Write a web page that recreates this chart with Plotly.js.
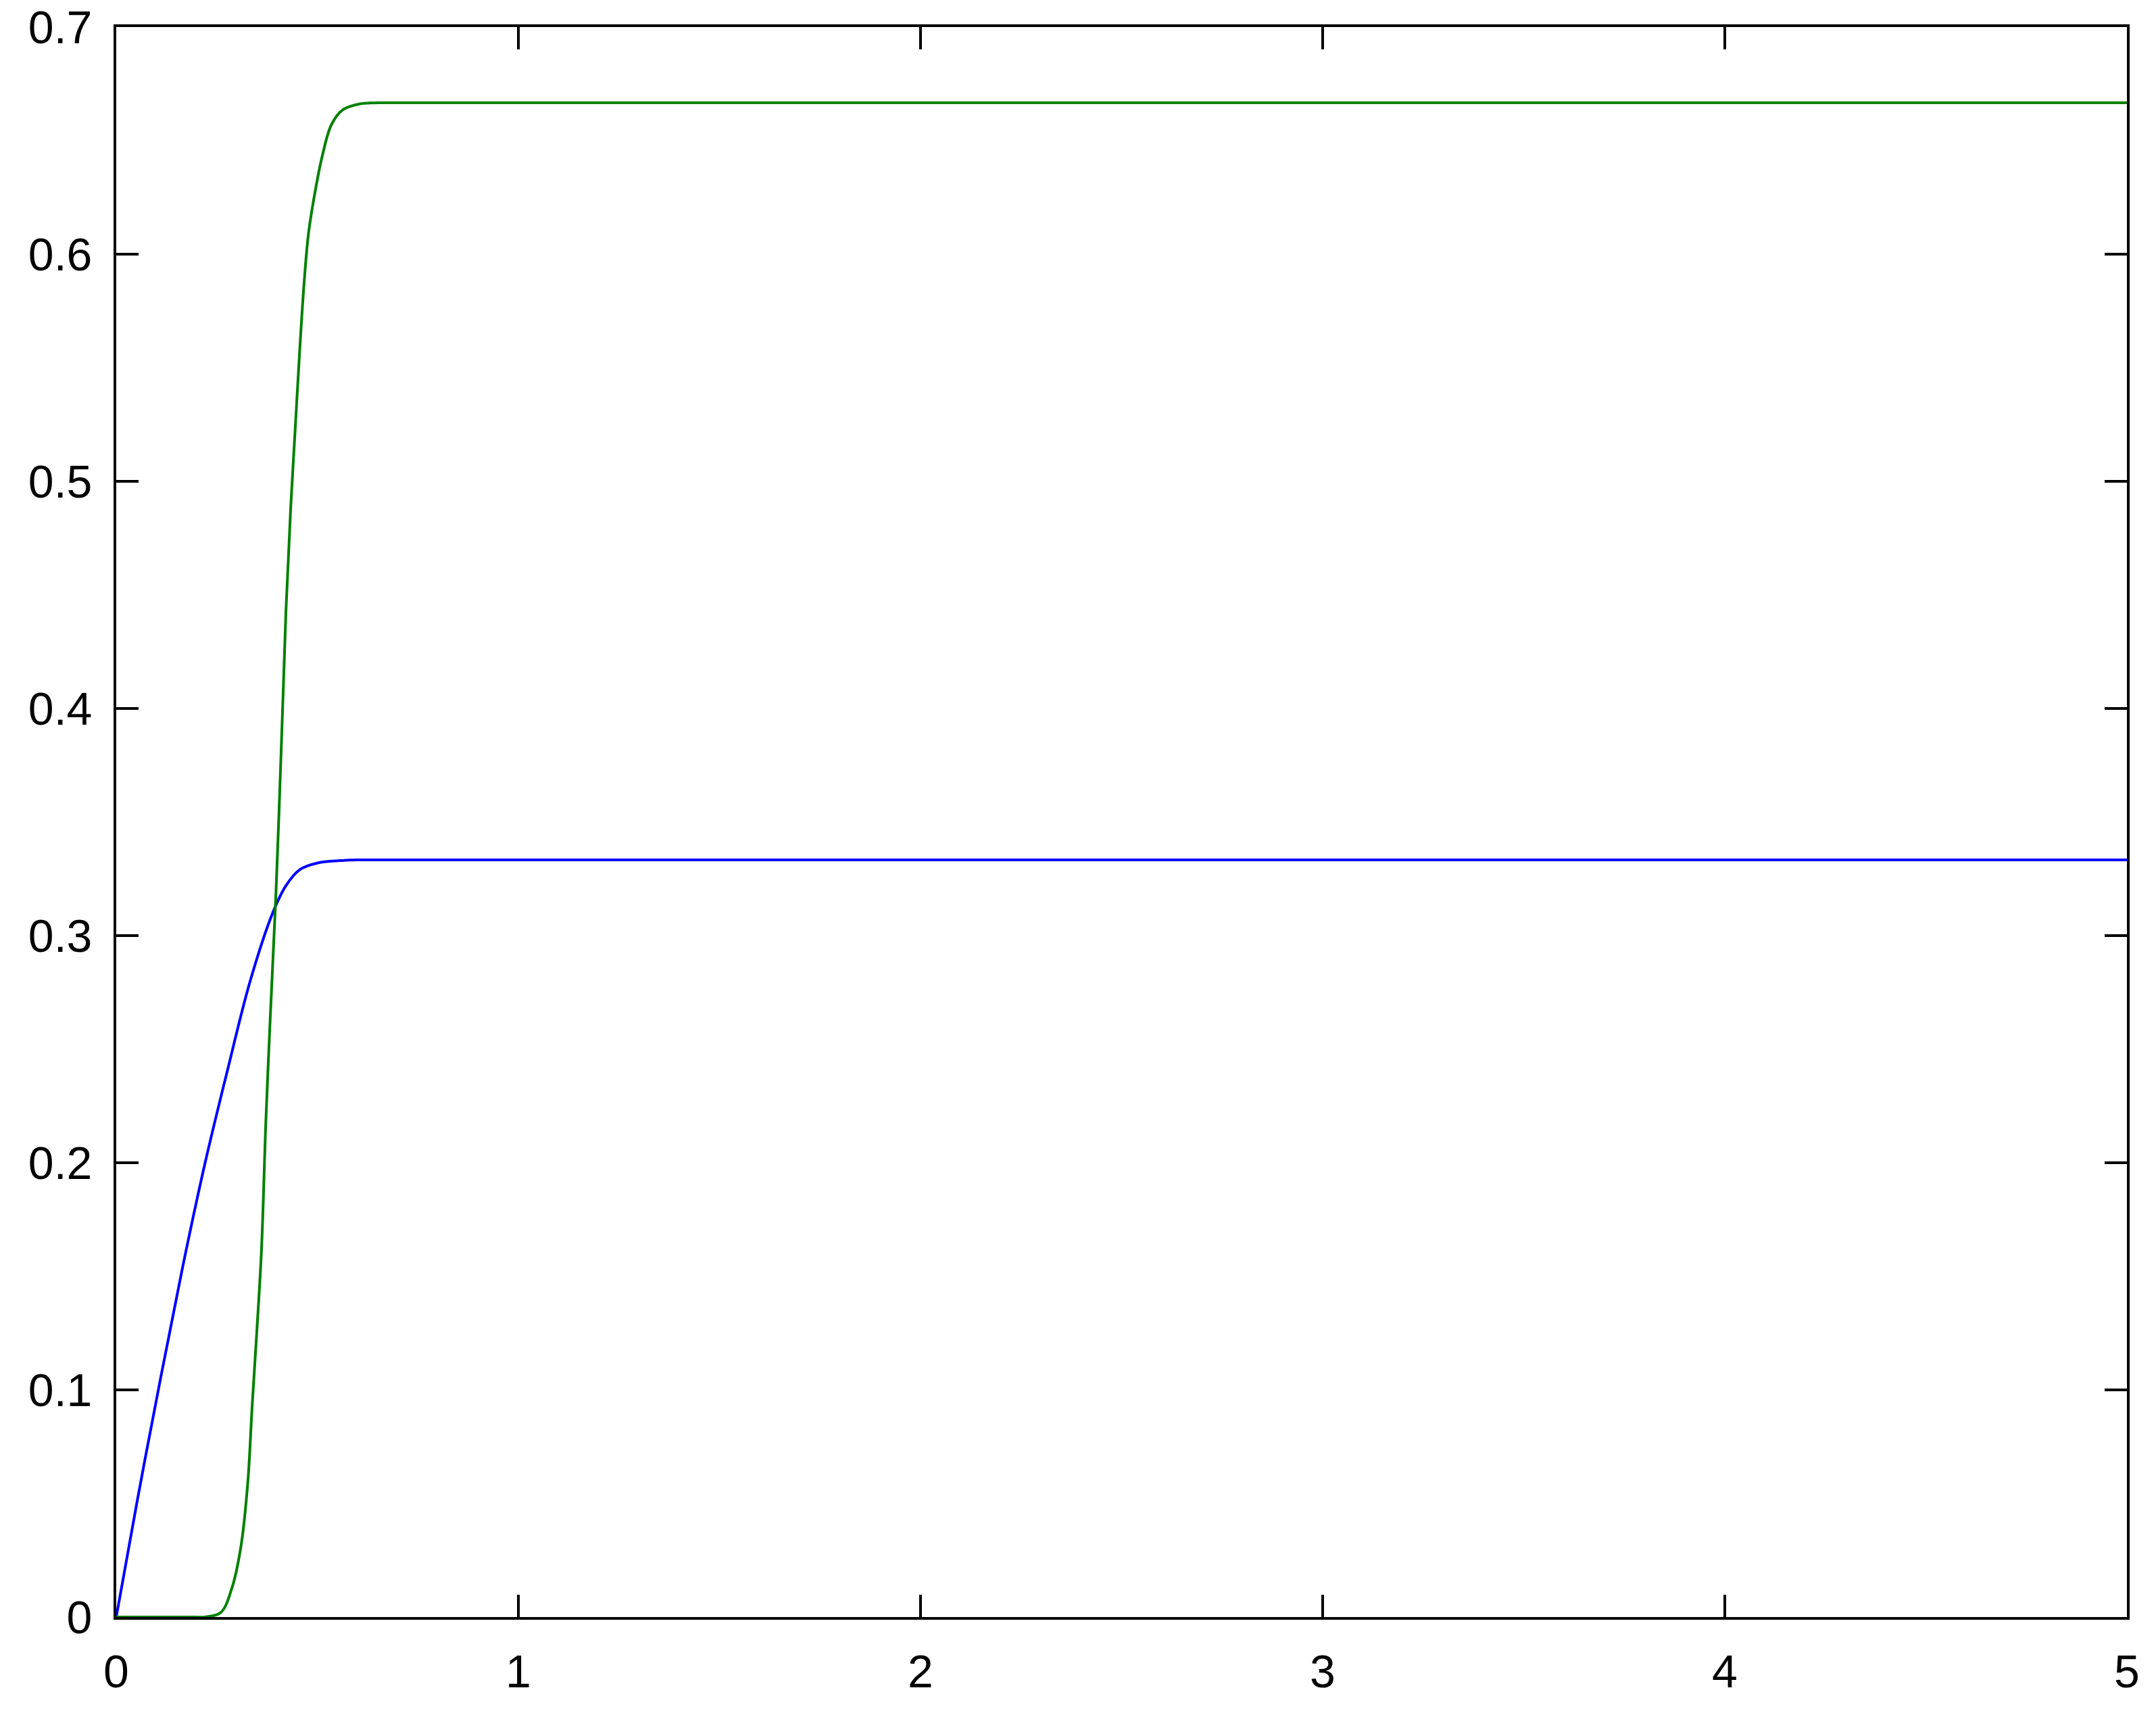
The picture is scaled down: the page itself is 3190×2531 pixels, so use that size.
<!DOCTYPE html>
<html>
<head>
<meta charset="utf-8">
<script src="https://cdn.plot.ly/plotly-3.0.1.min.js"></script>
<style>
  html, body { margin: 0; padding: 0; background: #fff; }
  #plot { width: 3190px; height: 2531px; }
</style>
</head>
<body>
<div id="plot"></div>
<script>
// values
const blueX = [0, 0.053, 0.109, 0.165, 0.221, 0.277, 0.333, 0.389, 0.422, 0.456, 0.501, 0.557, 0.6, 5];
const blueY = [0, 0.052, 0.104, 0.154, 0.200, 0.241, 0.280, 0.310, 0.322, 0.329, 0.332, 0.333, 0.3333, 0.3333];

const greenX = [0, 0.1, 0.2, 0.22, 0.26, 0.288, 0.31, 0.327, 0.338, 0.35, 0.361, 0.372, 0.383, 0.397, 0.411,
  0.422, 0.434, 0.445, 0.456, 0.467, 0.478, 0.495, 0.512, 0.535, 0.563, 0.607, 0.65, 5];
const greenY = [0, 0, 0, 0, 0.002, 0.013, 0.031, 0.059, 0.093, 0.127, 0.161, 0.218, 0.264, 0.318, 0.386,
  0.443, 0.489, 0.523, 0.557, 0.587, 0.609, 0.628, 0.643, 0.657, 0.6635, 0.6662, 0.6667, 0.6667];

const xTicks = [0, 1, 2, 3, 4, 5];
const yTicks = [0, 0.1, 0.2, 0.3, 0.4, 0.5, 0.6, 0.7];

const FONT = "Liberation Sans, Arial, sans-serif";

const traces = [
  {
    x: blueX,
    y: blueY,
    mode: "lines",
    line: { color: "#0000ff", width: 4, shape: "spline", smoothing: 1 },
    hoverinfo: "skip"
  },
  {
    x: greenX,
    y: greenY,
    mode: "lines",
    line: { color: "#008000", width: 4, shape: "spline", smoothing: 1 },
    hoverinfo: "skip"
  }
];

function axis(range, ticks) {
  return {
    range,
    tickmode: "array",
    tickvals: ticks,
    ticktext: ticks.map(String),
    showgrid: false,
    zeroline: false,
    showline: true,
    linecolor: "#000",
    linewidth: 4,
    mirror: "ticks",
    ticks: "inside",
    ticklen: 33,
    tickwidth: 4,
    tickcolor: "#000",
    ticklabelstandoff: 18,
    layer: "below traces",
    tickfont: { family: FONT, size: 68, color: "#000" }
  };
}

const layout = {
  width: 3190,
  height: 2531,
  margin: { l: 172, r: 43, t: 40, b: 139 },
  paper_bgcolor: "#fff",
  plot_bgcolor: "#fff",
  showlegend: false,
  xaxis: axis([0, 5], xTicks),
  yaxis: axis([0, 0.7], yTicks)
};

Plotly.newPlot("plot", traces, layout, { staticPlot: true, displayModeBar: false });
</script>
</body>
</html>
